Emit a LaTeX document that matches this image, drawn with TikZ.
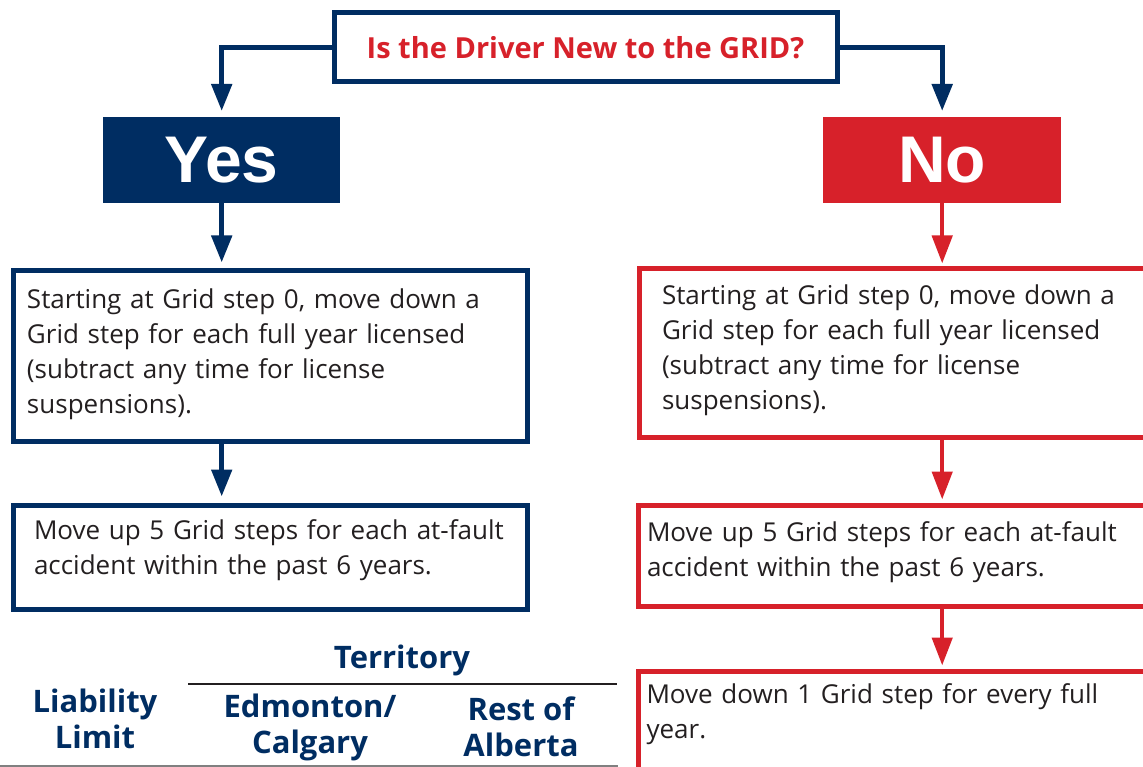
\documentclass[tikz,border=0pt]{standalone}
\usepackage{fontspec}
\setmainfont{Open Sans}
\newfontfamily\answerfont{Liberation Sans}
\usetikzlibrary{arrows.meta}
\definecolor{gridblue}{RGB}{0,45,98}
\definecolor{gridred}{RGB}{215,33,42}
\definecolor{bodygray}{RGB}{35,31,32}

\begin{document}
\begin{tikzpicture}[x=1pt,y=-1pt,
    bluebox/.style={draw=gridblue, line width=5pt, anchor=north west, inner ysep=0pt,
        align=left, text=bodygray, font=\fontsize{26}{35}\selectfont},
    redbox/.style={bluebox, draw=gridred},
    answer/.style={anchor=north west, inner sep=0pt, text=white,
        font=\answerfont\bfseries\fontsize{66}{66}\selectfont},
    head/.style={text=gridblue, align=center, font=\bfseries\fontsize{31}{36}\selectfont},
    bluearrow/.style={draw=gridblue, line width=5pt, -{Triangle[width=20pt,length=27pt]}, shorten >=6pt},
    redarrow/.style={draw=gridred, line width=4.5pt, -{Triangle[width=20pt,length=28pt]}, shorten >=3pt}]
  \useasboundingbox (0,0) rectangle (1143,767);
  \clip (0,0) rectangle (1143,767);

  % question
  \node[draw=gridblue, line width=5pt, anchor=north west, minimum width=503pt, minimum height=69pt,
        text=gridred, font=\bfseries\fontsize{29}{34}\selectfont] (q) at (331.5,10.5)
        {Is the Driver New to the GRID?};

  % yes / no
  \node[answer, fill=gridblue, minimum width=237pt, minimum height=86pt] (yes) at (103,117) {Yes};
  \node[answer, fill=gridred, minimum width=238pt, minimum height=86pt] (no) at (823,117) {No};

  % left column
  \node[bluebox, inner xsep=14pt, text width=486pt, minimum height=170pt] (a1) at (10.5,268.5)
    {Starting at Grid step 0, move down a\\ Grid step for each full year licensed\\
     (subtract any time for license\\ suspensions).\par\vspace{3pt}};
  \node[bluebox, inner xsep=21pt, text width=472pt, minimum height=104pt] (a2) at (10.5,502.5)
    {Move up 5 Grid steps for each at-fault\\ accident within the past 6 years.\par\vspace{14pt}};

  % right column
  \node[redbox, inner xsep=23pt, text width=477pt, minimum height=168pt] (b1) at (636.5,266.5)
    {Starting at Grid step 0, move down a\\ Grid step for each full year licensed\\
     (subtract any time for license\\ suspensions).\par\vspace{6pt}};
  \node[redbox, inner xsep=9pt, text width=506pt, minimum height=101pt] (b2) at (635.5,502.5)
    {Move up 5 Grid steps for each at-fault\\ accident within the past 6 years.\par\vspace{6pt}};
  \node[redbox, inner xsep=8.5pt, text width=507pt, minimum height=101pt] (b3) at (635.5,668.5)
    {Move down 1 Grid step for every full\\ year.\par\vspace{14pt}};

  % connectors
  \draw[bluearrow] (q.west) -| (yes.north);
  \draw[bluearrow] (q.east) -| (no.north);
  \draw[bluearrow] (yes.south) -- (yes.south |- a1.north);
  \draw[bluearrow] (a1.south -| yes.south) -- (yes.south |- a2.north);
  \draw[redarrow] (no.south) -- (no.south |- b1.north);
  \draw[redarrow] (b1.south -| no.south) -- (no.south |- b2.north);
  \draw[redarrow] (b2.south -| no.south) -- (no.south |- b3.north);

  % table head
  \node[head] (terr) at (402,660) {Territory};
  \node[head] (limit) at (95,719) {Liability\\ Limit};
  \node[head] (city) at (310,727) {Edmonton/\\ Calgary};
  \node[head] (rest) at (521,727) {Rest of\\ Alberta};
  \coordinate (rule1) at (188,684);
  \coordinate (rule2) at (617,684);
  \coordinate (base1) at (0,765.5);
  \coordinate (base2) at (618,765.5);
  \draw[line width=2.5pt, bodygray] (rule1) -- (rule2);
  \draw[line width=2pt, gray] (base1) -- (base2);
\end{tikzpicture}
\end{document}
